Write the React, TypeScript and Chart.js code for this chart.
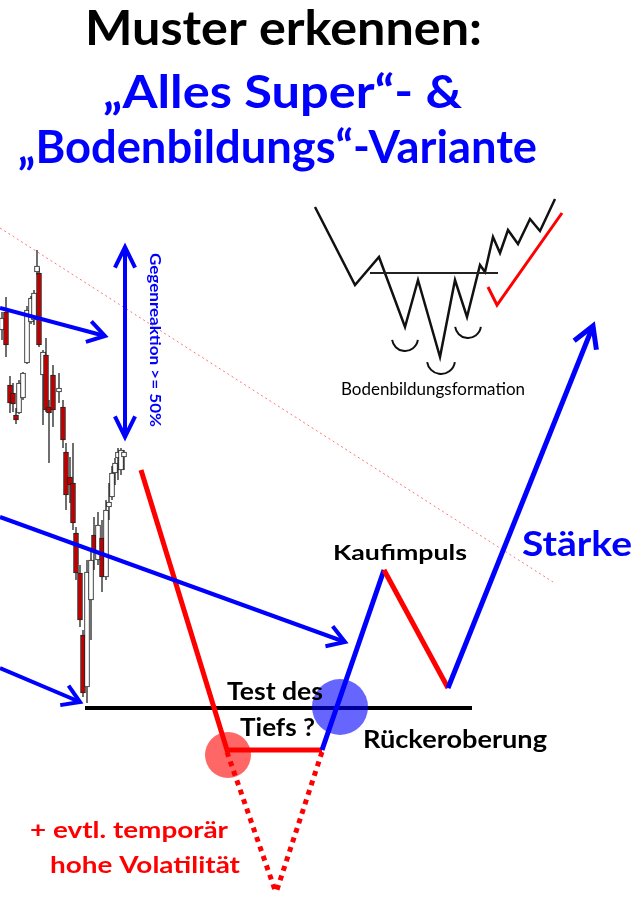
import React, { useEffect, useRef } from 'react';
import { Chart, registerables } from 'chart.js';

Chart.register(...registerables);

const W = 644;
const H = 898;

// ---------- candlesticks (y axis grows downward, like the picture) ----------
const candleX = [2, 6, 10, 13, 16, 19, 23, 27, 31, 34, 37, 39, 43, 46, 49, 53, 59, 63, 66, 70, 73, 76, 80, 83, 87, 91, 94, 98, 102, 106, 109, 112, 115, 118, 121, 124];
const candleOpen = [330, 312, 385, 393, 415, 413, 398, 363, 322, 320, 272, 273, 375, 355, 407, 375, 392, 407, 452, 477, 483, 533, 573, 635, 687, 600, 535, 560, 538, 577, 507, 497, 473, 458, 470, 457];
const candleHigh = [312, 297, 376, 383, 408, 380, 372, 306, 296, 290, 250, 268, 350, 338, 400, 365, 373, 400, 443, 457, 443, 527, 565, 630, 560, 548, 517, 512, 520, 500, 483, 466, 458, 448, 448, 450];
const candleLow = [340, 357, 413, 412, 424, 414, 400, 364, 324, 325, 275, 347, 425, 412, 463, 427, 403, 448, 510, 503, 530, 580, 627, 697, 703, 640, 570, 565, 592, 580, 520, 500, 485, 480, 475, 470];
const candleClose = [318, 345, 403, 404, 420, 383, 373, 310, 298, 293, 266, 345, 352, 410, 413, 410, 388, 440, 495, 485, 523, 573, 620, 693, 572, 560, 552, 525, 577, 510, 502, 473, 463, 452, 450, 452];

// ---------- scenario paths (x, y pairs) ----------
const trendLine = [[0, 228], [553, 582]];
const arrowA = [[0, 308], [105, 336]];
const arrowB = [[0, 517], [345, 642]];
const arrowC = [[0, 668], [80, 702]];
const reactionArrow = [[125, 247], [125, 437]];
const supportLine = [[85, 708], [472, 708]];
const redFall = [[141, 470], [227, 750], [322, 750]];
const redDottedA = [[227, 752], [276, 893]];
const redDottedB = [[322, 752], [276, 893]];
const blueRise = [[322, 750], [384, 570]];
const redPullback = [[384, 570], [448, 688]];
const strengthArrow = [[448, 688], [593, 326]];

// ---------- inset "Bodenbildungsformation" ----------
const insetPath = [[315, 207], [355, 285], [379, 257], [405, 327], [418, 280], [440, 357], [455, 280], [467, 317], [480, 265], [485, 272], [493, 237], [500, 253], [508, 230], [518, 244], [530, 219], [540, 231], [555, 199]];
const insetNeck = [[370, 273], [498, 273]];
const insetCheck = [[488, 287], [497, 305], [562, 213]];
const insetArcs = [[405, 338, 13], [441, 360, 14], [468, 325, 13]];

// ---------- highlight circles ----------
const redCircle = [[228, 755, 23]];
const blueCircle = [[340, 707, 28]];

// ---------- texts ----------
const labelTexts = [
  'Muster erkennen:',
  '\u201EAlles Super\u201C- &',
  '\u201EBodenbildungs\u201C-Variante',
  'Kaufimpuls',
  'St\u00E4rke',
  'Test des',
  'Tiefs ?',
  'R\u00FCckeroberung',
  '+ evtl. tempor\u00E4r',
  'hohe Volatilit\u00E4t',
  'Bodenbildungsformation',
  'Gegenreaktion >= 50%',
];

const BLUE = '#0000ff';
const RED = '#ff0000';

const labelLayout = [
  { x: 85, y: 45, w: 397, size: 47, color: '#000', weight: 'bold', rot: 0 },
  { x: 103, y: 108, w: 359, size: 46, color: BLUE, weight: 'bold', rot: 0 },
  { x: 18, y: 163, w: 519, size: 46, color: BLUE, weight: 'bold', rot: 0 },
  { x: 333, y: 560, w: 134, size: 21, color: '#000', weight: 'bold', rot: 0 },
  { x: 522, y: 556, w: 110, size: 34, color: BLUE, weight: 'bold', rot: 0 },
  { x: 227, y: 700, w: 96, size: 24, color: '#000', weight: 'bold', rot: 0 },
  { x: 240, y: 736, w: 75, size: 24, color: '#000', weight: 'bold', rot: 0 },
  { x: 363, y: 748, w: 184, size: 24, color: '#000', weight: 'bold', rot: 0 },
  { x: 30, y: 838, w: 198, size: 23, color: RED, weight: 'bold', rot: 0 },
  { x: 50, y: 873, w: 190, size: 23, color: RED, weight: 'bold', rot: 0 },
  { x: 341, y: 395, w: 184, size: 17, color: '#000', weight: 'normal', rot: 0 },
  { x: 150, y: 253, w: 174, size: 16, color: BLUE, weight: 'bold', rot: 90 },
];

const FONT = 'Lato, "Open Sans", "DejaVu Sans", sans-serif';

const pts = (arr: number[][]) => arr.map(([x, y]) => ({ x, y }));

function arrowHead(tail: number[], tip: number[], len: number, deg: number) {
  const a = Math.atan2(tip[1] - tail[1], tip[0] - tail[0]);
  const s = (deg * Math.PI) / 180;
  return [
    [tip[0] + len * Math.cos(a + Math.PI - s), tip[1] + len * Math.sin(a + Math.PI - s)],
    tip,
    [tip[0] + len * Math.cos(a + Math.PI + s), tip[1] + len * Math.sin(a + Math.PI + s)],
  ];
}

function lineDs(points: number[][], color: string, width: number, extra: any = {}) {
  return {
    type: 'line',
    data: pts(points),
    borderColor: color,
    backgroundColor: color,
    borderWidth: width,
    pointRadius: 0,
    pointHoverRadius: 0,
    fill: false,
    tension: 0,
    clip: false,
    spanGaps: false,
    borderCapStyle: 'butt',
    borderJoinStyle: 'miter',
    ...extra,
  };
}

const overlayPlugin = {
  id: 'overlay',
  afterDatasetsDraw(chart: any) {
    const ctx = chart.ctx as CanvasRenderingContext2D;
    const xs = chart.scales.x;
    const ys = chart.scales.y;
    ctx.save();
    ctx.strokeStyle = '#111';
    ctx.lineWidth = 2;
    insetArcs.forEach(([cx, cy, r]) => {
      ctx.beginPath();
      ctx.arc(xs.getPixelForValue(cx), ys.getPixelForValue(cy), r, 0.15, Math.PI - 0.15);
      ctx.stroke();
    });
    ctx.restore();

    labelTexts.forEach((text, i) => {
      const l = labelLayout[i];
      ctx.save();
      ctx.font = `${l.weight} ${l.size}px ${FONT}`;
      ctx.fillStyle = l.color;
      ctx.textBaseline = 'alphabetic';
      ctx.textAlign = 'left';
      const m = ctx.measureText(text).width;
      ctx.translate(xs.getPixelForValue(l.x), ys.getPixelForValue(l.y));
      if (l.rot) ctx.rotate((l.rot * Math.PI) / 180);
      ctx.scale(l.w / m, 1);
      ctx.fillText(text, 0, 0);
      ctx.restore();
    });
  },
};

export default function App() {
  const ref = useRef<HTMLCanvasElement>(null);

  useEffect(() => {
    const canvas = ref.current;
    if (!canvas) return;

    const wickData: any[] = [];
    candleX.forEach((x, i) => {
      wickData.push({ x, y: candleHigh[i] }, { x, y: candleLow[i] }, { x, y: null });
    });
    const bodyColors = candleX.map((_, i) => (candleClose[i] > candleOpen[i] ? '#c00000' : '#ffffff'));

    const bottomToTop: any[] = [
      lineDs(trendLine, 'rgba(255,0,0,0.55)', 1, { borderDash: [2, 3] }),
      lineDs([], '#222', 1.3, { data: wickData }),
      {
        type: 'bar',
        data: candleX.map((x, i) => ({ x, y: [candleOpen[i], candleClose[i]] })),
        backgroundColor: bodyColors,
        borderColor: '#222',
        borderWidth: 1,
        borderSkipped: false,
        barThickness: 5,
        minBarLength: 3,
        grouped: false,
      },
      lineDs(supportLine, '#000', 4),
      lineDs(redFall, RED, 5),
      lineDs(redDottedA, RED, 5, { borderDash: [5, 5] }),
      lineDs(redDottedB, RED, 5, { borderDash: [5, 5] }),
      lineDs(blueRise, BLUE, 5),
      lineDs(redPullback, RED, 5),
      lineDs(strengthArrow, BLUE, 5),
      lineDs(arrowHead(strengthArrow[0], strengthArrow[1], 24, 30), BLUE, 5),
      lineDs(arrowA, BLUE, 4),
      lineDs(arrowHead(arrowA[0], arrowA[1], 20, 32), BLUE, 4),
      lineDs(arrowB, BLUE, 4),
      lineDs(arrowHead(arrowB[0], arrowB[1], 20, 32), BLUE, 4),
      lineDs(arrowC, BLUE, 4),
      lineDs(arrowHead(arrowC[0], arrowC[1], 20, 32), BLUE, 4),
      lineDs(reactionArrow, BLUE, 4),
      lineDs(arrowHead(reactionArrow[1], reactionArrow[0], 23, 26), BLUE, 4),
      lineDs(arrowHead(reactionArrow[0], reactionArrow[1], 23, 26), BLUE, 4),
      lineDs(insetPath, '#111', 2.5),
      lineDs(insetNeck, '#222', 2),
      lineDs(insetCheck, RED, 3),
      {
        type: 'bubble',
        data: redCircle.map(([x, y, r]) => ({ x, y, r })),
        backgroundColor: 'rgba(255,0,0,0.6)',
        borderWidth: 0,
        clip: false,
      },
      {
        type: 'bubble',
        data: blueCircle.map(([x, y, r]) => ({ x, y, r })),
        backgroundColor: 'rgba(0,0,255,0.6)',
        borderWidth: 0,
        clip: false,
      },
    ];
    const N = bottomToTop.length;
    const datasets = bottomToTop.map((d, i) => ({ ...d, order: N - i }));

    const chart = new Chart(canvas, {
      type: 'line',
      data: { datasets },
      options: {
        responsive: false,
        animation: false,
        devicePixelRatio: 1,
        events: [],
        layout: { padding: 0, autoPadding: false },
        plugins: {
          legend: { display: false },
          tooltip: { enabled: false },
          title: { display: false },
        },
        scales: {
          x: { type: 'linear', min: 0, max: W, display: false, offset: false },
          y: { type: 'linear', min: 0, max: H, reverse: true, display: false },
        },
      },
      plugins: [overlayPlugin],
    } as any);

    let alive = true;
    if ((document as any).fonts) {
      Promise.all([
        (document as any).fonts.load(`bold 20px Lato`),
        (document as any).fonts.load(`normal 20px Lato`),
      ]).then(() => {
        if (alive) chart.update();
      }).catch(() => {});
    }

    return () => {
      alive = false;
      chart.destroy();
    };
  }, []);

  return (
    <div style={{ position: 'absolute', left: 0, top: 0, width: W, height: H, background: '#fff' }}>
      <canvas ref={ref} width={W} height={H} style={{ display: 'block', width: W, height: H }} />
    </div>
  );
}
